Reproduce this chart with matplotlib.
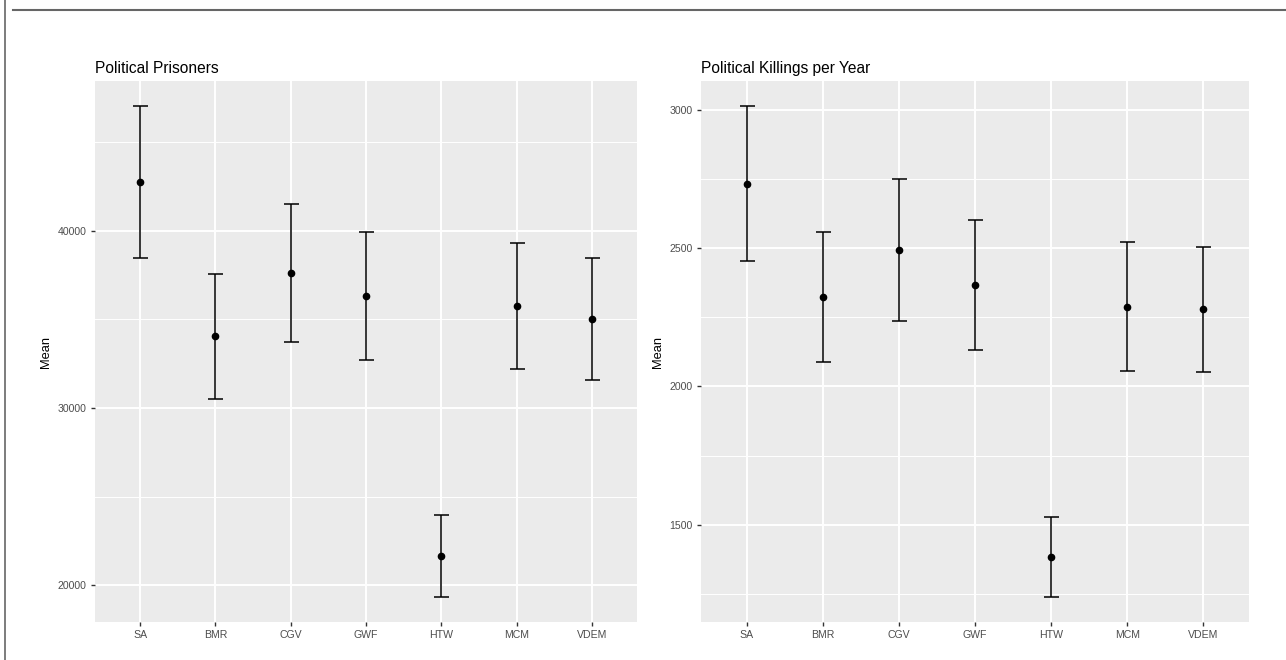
# IMPORT
import matplotlib
matplotlib.use("Agg")
import matplotlib.pyplot as plt
from matplotlib.lines import Line2D
from matplotlib.ticker import MultipleLocator

# donnees
categories = ['SA', 'BMR', 'CGV', 'GWF', 'HTW', 'MCM', 'VDEM']

prisoners_mean = [42740, 34060, 37630, 36310, 21675, 35750, 35030]
prisoners_low = [38455, 30505, 33720, 32705, 19325, 32180, 31560]
prisoners_high = [47065, 37575, 41520, 39920, 24000, 39340, 38480]

killings_mean = [2733, 2322, 2492, 2366, 1382, 2288, 2278]
killings_low = [2454, 2088, 2236, 2130, 1237, 2055, 2052]
killings_high = [3015, 2557, 2749, 2601, 1527, 2522, 2504]

plt.rcParams['font.family'] = ['Liberation Sans', 'DejaVu Sans']


def panel(ax, title, mean, low, high, major, minor):
    """
    # dessine un panneau style ggplot avec barres d'erreur
    """
    x = list(range(len(categories)))
    err = [[m - l for m, l in zip(mean, low)], [h - m for m, h in zip(mean, high)]]
    ax.errorbar(x, mean, yerr=err, fmt='o', color='black', ms=4.5,
                elinewidth=1.1, capsize=5.4, capthick=1.1, zorder=3)

    # expansion 5% comme ggplot
    span = max(high) - min(low)
    ax.set_ylim(min(low) - 0.05 * span, max(high) + 0.05 * span)
    ax.set_xlim(-0.6, len(categories) - 0.4)

    ax.set_facecolor('#EBEBEB')
    ax.yaxis.set_major_locator(MultipleLocator(major))
    ax.yaxis.set_minor_locator(MultipleLocator(minor))
    ax.set_xticks(x)
    ax.set_xticklabels(categories)
    ax.grid(which='major', color='white', lw=1.4)
    ax.grid(which='minor', axis='y', color='white', lw=0.7)
    ax.set_axisbelow(True)
    for s in ax.spines.values():
        s.set_visible(False)
    ax.tick_params(axis='both', which='major', length=3, width=1, color='#333333',
                   labelsize=7.6, labelcolor='#4D4D4D', pad=3)
    ax.tick_params(axis='y', which='minor', length=0)

    ax.set_title(title, loc='left', fontsize=11.2, pad=6)
    ax.set_ylabel('Mean', fontsize=9.3, labelpad=4)


def main():
    fig = plt.figure(figsize=(12.86, 6.6), dpi=100)
    ax1 = fig.add_axes([95 / 1286, 1 - 622 / 660, 542 / 1286, 541 / 660])
    ax2 = fig.add_axes([701 / 1286, 1 - 622 / 660, 548 / 1286, 541 / 660])

    panel(ax1, 'Political Prisoners', prisoners_mean, prisoners_low, prisoners_high, 10000, 5000)
    panel(ax2, 'Political Killings per Year', killings_mean, killings_low, killings_high, 500, 250)

    # cadre de la capture (bord gauche et ligne du haut)
    fig.add_artist(Line2D([5 / 1286, 5 / 1286], [0, 1], color='#666666', lw=1.2))
    fig.add_artist(Line2D([13 / 1286, 1], [1 - 10 / 660, 1 - 10 / 660], color='#666666', lw=1.5))

    fig.savefig('out.png', dpi=100)


if __name__ == "__main__":
    main()
